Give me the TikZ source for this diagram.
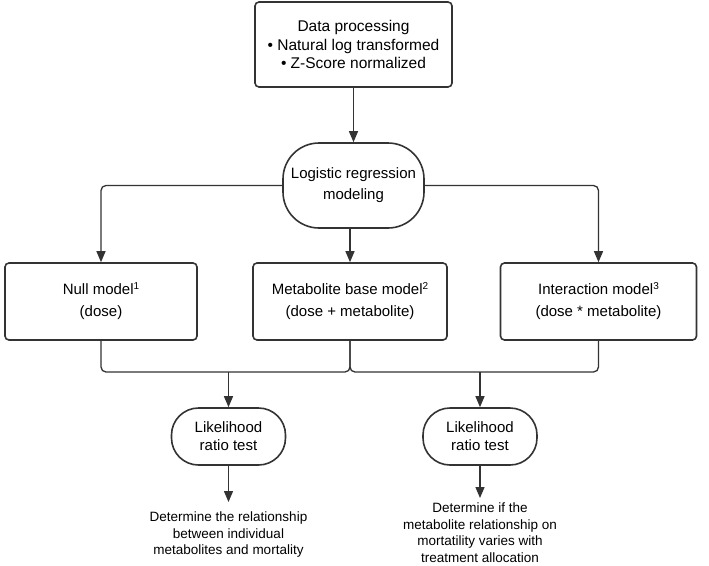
\documentclass[tikz,border=0pt]{standalone}
\usepackage{fontspec}
\setmainfont{Liberation Sans}
\usetikzlibrary{arrows.meta}
\definecolor{ln}{HTML}{333333}
\begin{document}
\begin{tikzpicture}[x=1pt,y=-1pt,
  box/.style={draw=ln,line width=1.6pt,rounded corners=4pt,align=center,inner sep=0pt,font=\fontsize{15}{22}\selectfont},
  pill/.style={draw=ln,line width=1.6pt,rounded corners=36pt,align=center,inner sep=0pt,font=\fontsize{15}{21}\selectfont},
  conn/.style={draw=ln,line width=1.3pt,rounded corners=5pt},
  arr/.style={conn,-{Triangle[length=11pt,width=9pt]}},
  note/.style={align=center,inner sep=0pt,font=\fontsize{13.5}{16.5}\selectfont}]
\useasboundingbox (0,0) rectangle (709,565);
\node[box,minimum width=197pt,minimum height=85pt,font=\fontsize{15.5}{18.4}\selectfont] (dp) at (353.5,44.5)
  {Data processing\\ • Natural log transformed\\ • Z-Score normalized};
\node[pill,minimum width=141pt,minimum height=85pt] (lr) at (353.5,185.5) {Logistic regression\\ modeling};
\node[box,minimum width=192pt,minimum height=77pt] (null) at (101,301.5) {Null model{\fontsize{10}{10}\selectfont\raisebox{5pt}{1}}\\ (dose)};
\node[box,minimum width=194pt,minimum height=77pt] (met) at (350,301.5) {Metabolite base model{\fontsize{10}{10}\selectfont\raisebox{5pt}{2}}\\ (dose + metabolite)};
\node[box,minimum width=196pt,minimum height=77pt] (int) at (598.5,301.5) {Interaction model{\fontsize{10}{10}\selectfont\raisebox{5pt}{3}}\\ (dose * metabolite)};
\node[pill,minimum width=114pt,minimum height=57pt,rounded corners=27pt,font=\fontsize{15}{18}\selectfont] (t1) at (228.5,436.5) {Likelihood\\ ratio test};
\node[pill,minimum width=114pt,minimum height=57pt,rounded corners=27pt,font=\fontsize{15}{18}\selectfont] (t2) at (480,436.5) {Likelihood\\ ratio test};
\node[note,anchor=north] (n1) at (228.5,512) {Determine the relationship\\ between individual\\ metabolites and mortality};
\node[note,anchor=north] (n2) at (480,503) {Determine if the\\ metabolite relationship on\\ mortatility varies with\\ treatment allocation};
\coordinate (jm) at (met.south |- 0,372);
\coordinate (b1) at (t1.north |- jm);
\coordinate (b2) at (t2.north |- jm);
\draw[arr] (dp.south) -- (lr.north);
\draw[arr] (lr.west) -| (null.north);
\draw[arr] (lr.east) -| (int.north);
\draw[arr] (lr.south -| met.north) -- (met.north);
\draw[conn] (null.south) |- (jm) -- (met.south);
\draw[conn] (int.south) |- (jm) -- (met.south);
\draw[arr] (b1) -- (t1.north);
\draw[arr] (b2) -- (t2.north);
\draw[arr] (t1.south) -- ([yshift=10pt]n1.north);
\draw[arr] (t2.south) -- ([yshift=5pt]n2.north);
\end{tikzpicture}
\end{document}
